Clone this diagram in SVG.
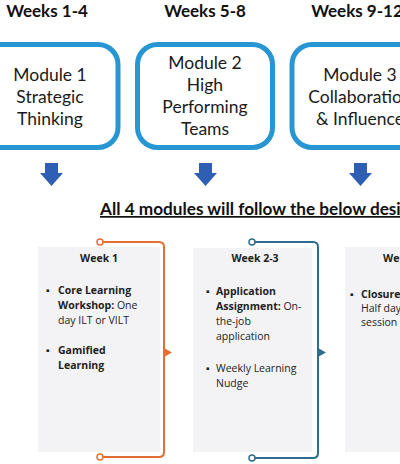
<svg xmlns="http://www.w3.org/2000/svg" width="400" height="464" viewBox="0 0 400 464">
<style>
  .hdr { font-family: Lato, "Liberation Sans", sans-serif; font-weight: bold; font-size: 17px; fill: #111; text-anchor: middle; }
  .mod { fill: #fff; stroke: #2896d3; stroke-width: 5; }
  .modt { font-family: Lato, "Liberation Sans", sans-serif; font-size: 17.5px; fill: #1a1a1a; text-anchor: middle; }
  .darr { fill: #2f5fb3; }
  .card { fill: #f3f3f5; }
  .ct { font-family: "Open Sans", "Liberation Sans", sans-serif; font-size: 10.5px; fill: #222; }
  .b { font-weight: bold; }
  .ttl { font-weight: bold; text-anchor: middle; }
  .or { stroke: #e36f37; fill: none; stroke-width: 2; }
  .tl { stroke: #2e6e8c; fill: none; stroke-width: 2; }
  .dot { fill: #fff; stroke-width: 1.5; }
</style>

<g id="headers">
  <text class="hdr" x="47" y="17">Weeks 1-4</text>
  <text class="hdr" x="205" y="17">Weeks 5-8</text>
  <text class="hdr" x="357" y="17">Weeks 9-12</text>
</g>

<g id="module1">
  <rect class="mod" x="-18" y="44.5" width="136" height="103" rx="20"/>
  <text class="modt" x="50" y="81">Module 1</text>
  <text class="modt" x="50" y="103">Strategic</text>
  <text class="modt" x="50" y="125">Thinking</text>
</g>
<g id="module2">
  <rect class="mod" x="137.5" y="44.5" width="135" height="103" rx="20"/>
  <text class="modt" x="205" y="69">Module 2</text>
  <text class="modt" x="205" y="91">High</text>
  <text class="modt" x="205" y="113">Performing</text>
  <text class="modt" x="205" y="135">Teams</text>
</g>
<g id="module3">
  <rect class="mod" x="292" y="44.5" width="136" height="103" rx="20"/>
  <text class="modt" x="360" y="81">Module 3</text>
  <text class="modt" x="360" y="103">Collaboration</text>
  <text class="modt" x="360" y="125">&amp; Influence</text>
</g>

<g id="connectors">
  <path class="darr" d="M45,163 H58 V173 H63 L51.5,186 L40,173 H45 Z"/>
  <path class="darr" d="M199,163 H212 V173 H217 L205.5,186 L194,173 H199 Z"/>
  <path class="darr" d="M354,163 H367 V173 H372 L360.5,186 L349,173 H354 Z"/>
  <path class="or" d="M100,242 H159 Q164,242 164,247 V452 Q164,457 159,457 H100"/>
  <circle class="dot" cx="100" cy="242" r="3" stroke="#e36f37"/>
  <circle class="dot" cx="100" cy="457" r="3" stroke="#e36f37"/>
  <path d="M164,348 L172,352.5 L164,357 Z" fill="#e36f37"/>
  <path class="tl" d="M252,242 H313 Q318,242 318,247 V453 Q318,458 313,458 H252"/>
  <circle class="dot" cx="252" cy="242" r="3" stroke="#2e6e8c"/>
  <circle class="dot" cx="252" cy="458" r="3" stroke="#2e6e8c"/>
  <path d="M318,348 L326,352.5 L318,357 Z" fill="#2e6e8c"/>
</g>

<g id="title">
  <text x="100" y="215" font-family="Lato, 'Liberation Sans', sans-serif" font-weight="bold" font-size="17.2" fill="#111" text-decoration="underline">All 4 modules will follow the below design</text>
</g>

<g id="card1">
  <rect class="card" x="38" y="247" width="122" height="205"/>
  <text class="ct ttl" x="99" y="262">Week 1</text>
  <text class="ct" x="46" y="294">▪</text>
  <text class="ct b" x="58" y="294">Core Learning</text>
  <text class="ct" x="58" y="309"><tspan class="b">Workshop:</tspan> One</text>
  <text class="ct" x="58" y="324">day ILT or VILT</text>
  <text class="ct" x="46" y="354">▪</text>
  <text class="ct b" x="58" y="354">Gamified</text>
  <text class="ct b" x="58" y="369">Learning</text>
</g>

<g id="card2">
  <rect class="card" x="193" y="248" width="119" height="204"/>
  <text class="ct ttl" x="255" y="262">Week 2-3</text>
  <text class="ct" x="206" y="295">▪</text>
  <text class="ct b" x="216" y="295">Application</text>
  <text class="ct" x="216" y="310"><tspan class="b">Assignment:</tspan> On-</text>
  <text class="ct" x="216" y="325">the-job</text>
  <text class="ct" x="216" y="340">application</text>
  <text class="ct" x="206" y="372">▪</text>
  <text class="ct" x="216" y="372">Weekly Learning</text>
  <text class="ct" x="216" y="387">Nudge</text>
</g>

<g id="card3">
  <rect class="card" x="345" y="247" width="70" height="205"/>
  <text class="ct ttl" x="402" y="262">Week 4</text>
  <text class="ct" x="350" y="298">▪</text>
  <text class="ct b" x="361" y="298">Closure:</text>
  <text class="ct" x="361" y="312">Half day</text>
  <text class="ct" x="361" y="326">session</text>
</g>
</svg>
